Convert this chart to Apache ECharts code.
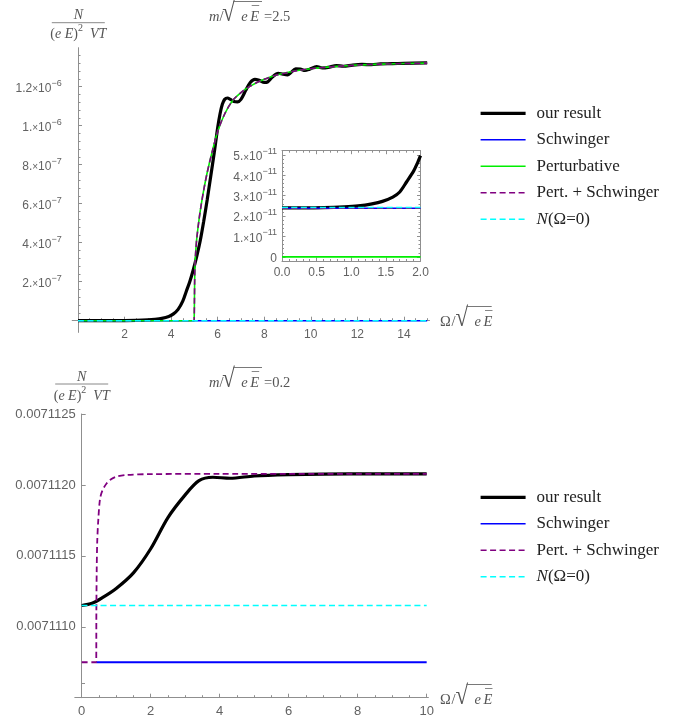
<!DOCTYPE html>
<html>
<head>
<meta charset="utf-8">
<title>N vs Omega</title>
<script src="https://cdn.jsdelivr.net/npm/echarts@6.0.0/dist/echarts.min.js"></script>
<style>
html,body{margin:0;padding:0;background:#ffffff;}
#chart{width:688px;height:721px;}
</style>
</head>
<body>
<div id="chart"></div>
<script>
// ================= DATA =================
const legendTop = ['our result', 'Schwinger', 'Perturbative', 'Pert. + Schwinger', 'N(Ω=0)'];
const legendBottom = ['our result', 'Schwinger', 'Pert. + Schwinger', 'N(Ω=0)'];

// Top panel, m/sqrt(eE)=2.5 : [Omega/sqrt(eE), N/((eE)^2 VT)]
const topOurResult = [
  [0,0],[1,0],[2,5e-10],[2.5,1.5e-9],[3.0,4e-9],[3.3,7e-9],[3.6,1.2e-8],[3.9,2.2e-8],[4.1,3.5e-8],
  [4.3,5.8e-8],[4.5,1.0e-7],[4.65,1.5e-7],[4.8,2.0e-7],[4.95,2.6e-7],[5.1,3.3e-7],[5.25,4.1e-7],
  [5.4,5.1e-7],[5.55,6.2e-7],[5.7,7.4e-7],[5.85,8.6e-7],[6.0,9.9e-7],[6.1,1.06e-6],[6.2,1.11e-6],
  [6.3,1.135e-6],[6.42,1.142e-6],[6.55,1.135e-6],[6.7,1.124e-6],[6.85,1.122e-6],[7.0,1.135e-6],
  [7.2,1.18e-6],[7.4,1.222e-6],[7.6,1.238e-6],[7.8,1.232e-6],[8.0,1.222e-6],[8.15,1.225e-6],
  [8.35,1.25e-6],[8.6,1.269e-6],[8.8,1.264e-6],[9.0,1.261e-6],[9.15,1.273e-6],[9.35,1.292e-6],
  [9.55,1.29e-6],[9.75,1.283e-6],[9.95,1.29e-6],[10.25,1.303e-6],[10.5,1.296e-6],[10.75,1.299e-6],
  [11.1,1.308e-6],[11.4,1.305e-6],[11.8,1.311e-6],[12.2,1.314e-6],[12.6,1.313e-6],[13,1.317e-6],
  [13.5,1.318e-6],[14,1.32e-6],[15,1.322e-6]
];
const topSchwinger = [[0,2.38e-11],[15,2.38e-11]];
const topPerturbative = [
  [0,0],[4.99,0],[5,0],[5.003,1.2e-7],[5.01,2.0e-7],[5.03,3.0e-7],[5.06,3.6e-7],[5.1,4.2e-7],
  [5.2,5.2e-7],[5.3,6.0e-7],[5.4,6.7e-7],[5.55,7.6e-7],[5.75,8.6e-7],[6.0,9.7e-7],[6.3,1.06e-6],
  [6.65,1.13e-6],[7.0,1.17e-6],[7.4,1.203e-6],[8.0,1.238e-6],[8.7,1.265e-6],[9.5,1.284e-6],
  [10.2,1.295e-6],[11,1.303e-6],[12,1.311e-6],[13,1.316e-6],[14,1.319e-6],[15,1.321e-6]
];
const topPertSchwinger = [
  [0,2.38e-11],[4.99,2.38e-11],[5,2.38e-11],[5.003,1.2e-7],[5.01,2.0e-7],[5.03,3.0e-7],[5.06,3.6e-7],
  [5.1,4.2e-7],[5.2,5.2e-7],[5.3,6.0e-7],[5.4,6.7e-7],[5.55,7.6e-7],[5.75,8.6e-7],[6.0,9.7e-7],
  [6.3,1.06e-6],[6.65,1.13e-6],[7.0,1.17e-6],[7.4,1.203e-6],[8.0,1.238e-6],[8.7,1.265e-6],
  [9.5,1.284e-6],[10.2,1.295e-6],[11,1.303e-6],[12,1.311e-6],[13,1.316e-6],[14,1.319e-6],[15,1.321e-6]
];
const topNZero = [[0,2.42e-11],[15,2.42e-11]];

// Inset of the top panel (0 <= Omega <= 2)
const insetOurResult = [
  [0,2.4e-11],[0.3,2.4e-11],[0.6,2.41e-11],[0.9,2.45e-11],[1.1,2.5e-11],[1.3,2.6e-11],[1.45,2.72e-11],
  [1.6,2.93e-11],[1.7,3.18e-11],[1.8,3.68e-11],[1.9,4.2e-11],[1.95,4.55e-11],[2.0,4.96e-11]
];
const insetSchwinger = [[0,2.38e-11],[2,2.38e-11]];
const insetPerturbative = [[0,0],[2,0]];
const insetPertSchwinger = [[0,2.38e-11],[2,2.38e-11]];
const insetNZero = [[0,2.42e-11],[2,2.42e-11]];

// Bottom panel, m/sqrt(eE)=0.2
const bottomOurResult = [
  [0,0.00711115],[0.3,0.007111165],[0.6,0.007111205],[1.0,0.00711127],[1.5,0.00711138],[2.0,0.00711155],
  [2.5,0.00711177],[3.0,0.00711193],[3.4,0.00711203],[3.8,0.007112054],[4.3,0.007112047],
  [5.0,0.007112063],[6.0,0.007112072],[7.0,0.007112076],[8.5,0.007112078],[10,0.007112078]
];
const bottomSchwinger = [[0.42,0.00711075],[10,0.00711075]];
const bottomPertSchwinger = [
  [0,0.00711075],[0.42,0.00711075],[0.425,0.0071111],[0.435,0.0071114],[0.45,0.0071116],
  [0.48,0.00711175],[0.53,0.00711190],[0.6,0.00711196],[0.72,0.00711201],[0.85,0.00711204],
  [1.0,0.007112058],[1.3,0.00711207],[2.0,0.007112076],[4,0.007112078],[10,0.007112078]
];
const bottomNZero = [[0,0.00711115],[10,0.00711115]];

// Tick values and labels
const topXTicks = [2,4,6,8,10,12,14];
const topYTicks = [2e-7,4e-7,6e-7,8e-7,1e-6,1.2e-6];
const topYMantissa = ['2.','4.','6.','8.','1.','1.2'];
const topYExponent = ['−7','−7','−7','−7','−6','−6'];
const insetXLabels = ['0.0','0.5','1.0','1.5','2.0'];
const insetYTicks = [0,1e-11,2e-11,3e-11,4e-11,5e-11];
const insetYMantissa = ['0','1.','2.','3.','4.','5.'];
const insetYExponent = ['','−11','−11','−11','−11','−11'];
const bottomXTicks = [0,2,4,6,8,10];
const bottomYTicks = [0.0071110,0.0071115,0.0071120,0.0071125];
const bottomYLabels = ['0.0071110','0.0071115','0.0071120','0.0071125'];

function steps(a, n, d) { const r = []; for (let i = 0; i <= n; i++) r.push(a + i * d); return r; }
const topXMinor = steps(0.5, 29, 0.5);
const topYMinor = steps(0.4e-7, 33, 0.4e-7);
const bottomXMinor = steps(0.5, 19, 0.5);
const bottomYMinor = steps(0.0071106, 18, 1e-10);
const insetYMinor = steps(0.2e-11, 24, 0.2e-11);

// ================= STYLE =================
const AX = '#8f8f8f', TXT = '#626262';
const F_SANS = '"Liberation Sans", Arial, sans-serif';
const F_SERIF = '"Liberation Serif", "Times New Roman", serif';
const C_BLACK = '#000000', C_BLUE = '#0000ff', C_GREEN = '#00ee00', C_PURPLE = '#800080', C_CYAN = '#00ffff';

function sciRich(fs) {
  return {
    m: {fontFamily: F_SANS, fontSize: fs, color: TXT, verticalAlign: 'bottom', lineHeight: fs + 4},
    x: {fontFamily: F_SANS, fontSize: fs - 2, color: TXT, verticalAlign: 'bottom', lineHeight: fs + 4},
    s: {fontFamily: F_SANS, fontSize: fs - 3, color: TXT, verticalAlign: 'top', lineHeight: fs - 3}
  };
}
function idx(arr, v, tol) { for (let i = 0; i < arr.length; i++) if (Math.abs(arr[i] - v) < tol) return i; return -1; }

function vAxis(o) {
  return Object.assign({type: 'value', splitLine: {show: false}, minorSplitLine: {show: false},
    minorTick: {show: false}, axisPointer: {show: false}, silent: true}, o);
}
function tick(len, values) {
  const t = {show: true, inside: true, length: len, lineStyle: {color: AX, width: 1}};
  if (values) t.customValues = values;
  return t;
}

const xAxes = [
  vAxis({gridIndex: 0, min: -0.25, max: 15.1, position: 'bottom',
    axisLine: {show: true, onZero: true, onZeroAxisIndex: 0, lineStyle: {color: AX, width: 1}},
    axisTick: tick(4, topXTicks),
    axisLabel: {show: true, customValues: topXTicks, margin: -4, color: TXT, fontSize: 12, fontFamily: F_SANS,
      formatter: v => String(Math.round(v))}}),
  vAxis({gridIndex: 0, min: -0.25, max: 15.1, position: 'bottom',
    axisLine: {show: true, onZero: true, onZeroAxisIndex: 0, lineStyle: {color: AX, opacity: 0}},
    axisTick: tick(2.5, topXMinor), axisLabel: {show: false}}),
  vAxis({gridIndex: 1, min: -0.2, max: 10.05, position: 'bottom',
    axisLine: {show: true, onZero: false, lineStyle: {color: AX, width: 1}},
    axisTick: tick(4, bottomXTicks),
    axisLabel: {show: true, customValues: bottomXTicks, margin: 7, color: TXT, fontSize: 13, fontFamily: F_SANS,
      formatter: v => String(Math.round(v))}}),
  vAxis({gridIndex: 1, min: -0.2, max: 10.05, position: 'bottom',
    axisLine: {show: true, onZero: false, lineStyle: {color: AX, opacity: 0}},
    axisTick: tick(2.5, bottomXMinor), axisLabel: {show: false}}),
  vAxis({gridIndex: 2, min: 0, max: 2, interval: 0.5, position: 'bottom',
    axisLine: {show: true, onZero: false, lineStyle: {color: AX, width: 1}},
    axisTick: tick(3.5), minorTick: {show: true, splitNumber: 5, length: 2, lineStyle: {color: AX, width: 1}},
    axisLabel: {show: true, margin: 6, color: TXT, fontSize: 12, fontFamily: F_SANS,
      formatter: v => insetXLabels[Math.round(v * 2)]}}),
  vAxis({gridIndex: 2, min: 0, max: 2, interval: 0.5, position: 'top',
    axisLine: {show: true, onZero: false, lineStyle: {color: AX, width: 1}},
    axisTick: tick(3.5), minorTick: {show: true, splitNumber: 5, length: 2, lineStyle: {color: AX, width: 1}},
    axisLabel: {show: false}})
];

const yAxes = [
  vAxis({gridIndex: 0, min: -0.06e-6, max: 1.4e-6, position: 'left',
    axisLine: {show: true, onZero: true, onZeroAxisIndex: 0, lineStyle: {color: AX, width: 1}},
    axisTick: tick(4, topYTicks),
    axisLabel: {show: true, customValues: topYTicks, margin: 10.5, rich: sciRich(12),
      formatter: v => { const i = idx(topYTicks, v, 1e-9); return '{m|' + topYMantissa[i] + '}{x|×}{m|10}{s|' + topYExponent[i] + '}'; }}}),
  vAxis({gridIndex: 0, min: -0.06e-6, max: 1.4e-6, position: 'left',
    axisLine: {show: true, onZero: true, onZeroAxisIndex: 0, lineStyle: {color: AX, opacity: 0}},
    axisTick: tick(2.5, topYMinor), axisLabel: {show: false}}),
  vAxis({gridIndex: 1, min: 0.0071105, max: 0.0071125, position: 'left',
    axisLine: {show: true, onZero: true, onZeroAxisIndex: 2, lineStyle: {color: AX, width: 1}},
    axisTick: tick(4, bottomYTicks),
    axisLabel: {show: true, customValues: bottomYTicks, margin: -1, color: TXT, fontSize: 13, fontFamily: F_SANS,
      formatter: v => bottomYLabels[idx(bottomYTicks, v, 1e-11)]}}),
  vAxis({gridIndex: 1, min: 0.0071105, max: 0.0071125, position: 'left',
    axisLine: {show: true, onZero: true, onZeroAxisIndex: 2, lineStyle: {color: AX, opacity: 0}},
    axisTick: tick(2.5, bottomYMinor), axisLabel: {show: false}}),
  vAxis({gridIndex: 2, min: -0.2e-11, max: 5.2e-11, position: 'left',
    axisLine: {show: true, onZero: false, lineStyle: {color: AX, width: 1}},
    axisTick: tick(3.5, insetYTicks),
    axisLabel: {show: true, customValues: insetYTicks, margin: 5, rich: sciRich(12),
      formatter: v => { const i = idx(insetYTicks, v, 1e-14); return insetYExponent[i] ? '{m|' + insetYMantissa[i] + '}{x|×}{m|10}{s|' + insetYExponent[i] + '}' : '{m|' + insetYMantissa[i] + '}'; }}}),
  vAxis({gridIndex: 2, min: -0.2e-11, max: 5.2e-11, position: 'left',
    axisLine: {show: true, onZero: false, lineStyle: {color: AX, opacity: 0}},
    axisTick: tick(2, insetYMinor), axisLabel: {show: false}}),
  vAxis({gridIndex: 2, min: -0.2e-11, max: 5.2e-11, position: 'right',
    axisLine: {show: true, onZero: false, lineStyle: {color: AX, width: 1}},
    axisTick: tick(3.5, insetYTicks), axisLabel: {show: false}}),
  vAxis({gridIndex: 2, min: -0.2e-11, max: 5.2e-11, position: 'right',
    axisLine: {show: true, onZero: false, lineStyle: {color: AX, opacity: 0}},
    axisTick: tick(2, insetYMinor), axisLabel: {show: false}})
];

function line(name, data, xi, yi, color, width, dashed) {
  return {type: 'line', name, data, xAxisIndex: xi, yAxisIndex: yi, symbol: 'none', showSymbol: false,
    smooth: 0.3, clip: true, silent: true, animation: false,
    lineStyle: {color, width, type: dashed ? [6, 3.5] : 'solid', cap: 'butt'},
    itemStyle: {color}, emphasis: {disabled: true}};
}

const series = [
  line('our result', topOurResult, 0, 0, C_BLACK, 3.2),
  line('Schwinger', topSchwinger, 0, 0, C_BLUE, 1.6),
  line('Perturbative', topPerturbative, 0, 0, C_GREEN, 1.6),
  line('Pert. + Schwinger', topPertSchwinger, 0, 0, C_PURPLE, 1.6, true),
  line('N(Ω=0)', topNZero, 0, 0, C_CYAN, 1.6, true),

  line('our result', insetOurResult, 4, 4, C_BLACK, 3.2),
  line('Schwinger', insetSchwinger, 4, 4, C_BLUE, 1.6),
  line('Perturbative', insetPerturbative, 4, 4, C_GREEN, 1.6),
  line('Pert. + Schwinger', insetPertSchwinger, 4, 4, C_PURPLE, 1.6, true),
  line('N(Ω=0)', insetNZero, 4, 4, C_CYAN, 1.6, true),

  line('our result', bottomOurResult, 2, 2, C_BLACK, 3.2),
  line('Schwinger', bottomSchwinger, 2, 2, C_BLUE, 1.8),
  line('Pert. + Schwinger', bottomPertSchwinger, 2, 2, C_PURPLE, 1.8, true),
  line('N(Ω=0)', bottomNZero, 2, 2, C_CYAN, 1.6, true)
];

function legendCfg(top, data) {
  return {show: true, orient: 'vertical', left: 474, top, data, itemWidth: 45, itemHeight: 14, itemGap: 6.5,
    selectedMode: false, lineStyle: {width: 'inherit'}, itemStyle: {opacity: 0},
    textStyle: {fontFamily: F_SERIF, fontSize: 17, color: '#222', lineHeight: 20, padding: [0, 0, 0, 6],
      rich: {i: {fontFamily: F_SERIF, fontSize: 17, fontStyle: 'italic', color: '#222', lineHeight: 20}}},
    formatter: n => n === 'N(Ω=0)' ? '{i|N}(Ω=0)' : n};
}

// ============ math labels (real text) ============
const MATH = '#555', MATHLINE = '#6a6a6a';
function T(x, y, text, size, italic, align, extra) {
  return Object.assign({type: 'text', x, y, silent: true, z: 10,
    style: {text, fill: MATH, fontFamily: '"Liberation Serif", serif', fontSize: size, fontStyle: italic ? 'italic' : 'normal',
      align: align || 'left', verticalAlign: 'middle', textAlign: align || 'left', textVerticalAlign: 'middle'}}, extra || {});
}
function L(x1, y1, x2, y2, w) {
  return {type: 'line', silent: true, z: 10, shape: {x1, y1, x2, y2}, style: {stroke: MATHLINE, lineWidth: w || 1}};
}
function fraction(cx, cy) {
  const r = {
    p: {fontFamily: F_SERIF, fontSize: 14, fill: MATH, verticalAlign: 'bottom', lineHeight: 18},
    i: {fontFamily: F_SERIF, fontSize: 14, fontStyle: 'italic', fill: MATH, verticalAlign: 'bottom', lineHeight: 18},
    s: {fontFamily: F_SERIF, fontSize: 10, fill: MATH, verticalAlign: 'top', lineHeight: 10}
  };
  return [
    T(cx, cy - 7, 'N', 14, true, 'center'),
    L(cx - 26.5, cy, cx + 26.5, cy, 0.8),
    {type: 'text', x: cx, y: cy + 10, silent: true, z: 10,
      style: {text: '{p|(}{i|e E}{p|)}{s|2}{p|  }{i|VT}', rich: r, fill: MATH,
        align: 'center', verticalAlign: 'middle', textAlign: 'center', textVerticalAlign: 'middle'}}
  ];
}
function sqrtPart(rx, cy, vEnd) {
  // radical glyph, vinculum, e, E with overbar
  return [
    T(rx - 0.5, cy - 3, '√', 23, false, 'left', {scaleY: 1.18}),
    L(rx + 10.5, cy - 15.5, vEnd, cy - 15.5, 0.9),
    T(rx + 18.5, cy, 'e', 14.5, true),
    T(rx + 27.5, cy, 'E', 14.5, true),
    L(rx + 29, cy - 11.5, rx + 36.5, cy - 11.5, 0.8)
  ];
}
function titleLabel(cy, value) {
  return [T(209, cy, 'm', 14.5, true), T(219.5, cy, '/', 14.5, false)]
    .concat(sqrtPart(222.7, cy, 262))
    .concat([T(264, cy, '=' + value, 14.5, false)]);
}
function axisNameLabel(cy) {
  return [T(440, cy, 'Ω', 14.5, false), T(451.5, cy, '/', 14.5, false)].concat(sqrtPart(456, cy, 491.7));
}

const graphics = []
  .concat(fraction(78.3, 22.7))
  .concat(titleLabel(17, '2.5'))
  .concat(axisNameLabel(322))
  .concat(fraction(81.7, 384))
  .concat(titleLabel(383, '0.2'))
  .concat(axisNameLabel(700));

const chart = echarts.init(document.getElementById('chart'), null, {renderer: 'canvas', width: 688, height: 721});
chart.setOption({
  animation: false,
  backgroundColor: '#ffffff',
  grid: [
    {left: 72.2, top: 47.7, width: 357.3, height: 284.7, show: false, containLabel: false, outerBoundsMode: 'none'},
    {left: 74.8, top: 414, width: 353.6, height: 283.7, show: false, containLabel: false, outerBoundsMode: 'none'},
    {left: 282, top: 150.7, width: 138.5, height: 110.3, show: true, backgroundColor: '#ffffff', borderWidth: 0,
      containLabel: false, outerBoundsMode: 'none'}
  ],
  xAxis: xAxes,
  yAxis: yAxes,
  legend: [legendCfg(98.3, legendTop), legendCfg(482.3, legendBottom)],
  tooltip: {show: false},
  series: series,
  graphic: {elements: graphics}
});
</script>
</body>
</html>
